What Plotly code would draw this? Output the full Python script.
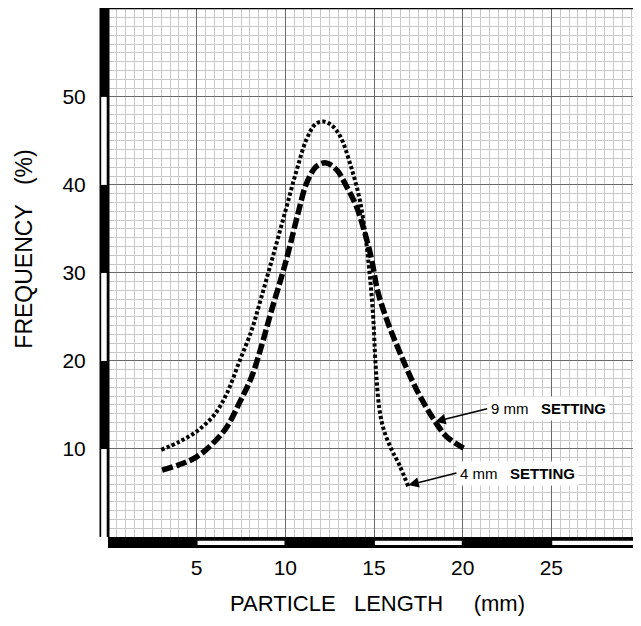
import plotly.graph_objects as go

# ---- data ----
x_4mm = [3.0, 4.0, 5.0, 6.0, 6.7, 7.4, 8.1, 8.6, 9.3, 10.0, 10.6, 11.2, 11.7, 12.15, 12.6,
         13.1, 13.7, 14.2, 14.5, 14.7, 14.85, 14.97, 15.05, 15.15, 15.3, 15.52, 15.95, 16.45, 16.94]
y_4mm = [9.9, 10.8, 12.0, 13.9, 16.3, 19.9, 23.5, 26.9, 31.9, 37.0, 41.4, 45.2, 46.9, 47.2, 46.8,
         45.5, 42.1, 38.3, 34.5, 31.0, 27.8, 24.5, 21.0, 17.8, 14.6, 12.4, 10.1, 8.1, 5.7]

x_9mm = [3.05, 4.0, 5.0, 5.9, 6.7, 7.4, 8.1, 8.7, 9.2, 9.85, 10.2, 10.72, 11.2, 11.75, 12.3,
         12.9, 13.46, 14.02, 14.49, 14.87, 15.2, 15.72, 16.47, 17.41, 18.45, 19.1, 20.05]
y_9mm = [7.6, 8.2, 9.1, 10.6, 12.5, 15.2, 18.2, 22.0, 25.6, 30.0, 32.6, 36.8, 40.2, 42.1, 42.5,
         41.7, 39.8, 37.5, 34.5, 31.5, 28.0, 24.7, 20.9, 16.7, 13.1, 11.4, 10.1]

x_ticks = [5, 10, 15, 20, 25]
y_ticks = [10, 20, 30, 40, 50]
x_max = 30
y_max = 60.1

label_9mm = "9 mm\u00a0\u00a0\u00a0<b>SETTING</b>"
label_4mm = "4 mm\u00a0\u00a0\u00a0<b>SETTING</b>"
x_title = "PARTICLE\u00a0\u00a0\u00a0LENGTH\u00a0\u00a0\u00a0\u00a0\u00a0(mm)"
y_title = "FREQUENCY\u00a0\u00a0\u00a0(%)"

FONT = "Liberation Sans, Arial, Helvetica, sans-serif"

fig = go.Figure()
fig.add_trace(go.Scatter(
    x=x_4mm, y=y_4mm, mode="lines", name="4 mm setting",
    line=dict(color="black", width=4, dash="3.3px,2.3px", shape="spline", smoothing=1.0),
    showlegend=False, hoverinfo="skip"))
fig.add_trace(go.Scatter(
    x=x_9mm, y=y_9mm, mode="lines", name="9 mm setting",
    line=dict(color="black", width=5.5, dash="11px,3.5px", shape="spline", smoothing=1.0),
    showlegend=False, hoverinfo="skip"))

shapes = []
# left thick axis bar
shapes.append(dict(type="rect", xref="paper", yref="paper", xsizemode="pixel", xanchor=0,
                   x0=-8.5, x1=1.5, y0=0, y1=1, fillcolor="black", line=dict(width=0), layer="above"))
# white strips in left bar: alternate intervals between ticks
y_edges = [0] + y_ticks
for i in range(0, len(y_edges) - 1, 2):
    shapes.append(dict(type="rect", xref="paper", yref="y", xsizemode="pixel", xanchor=0,
                       x0=-6.8, x1=-1.3, y0=y_edges[i], y1=y_edges[i + 1],
                       fillcolor="white", line=dict(width=0), layer="above"))
# bottom thick axis bar
shapes.append(dict(type="rect", xref="x", yref="paper", ysizemode="pixel", yanchor=0,
                   x0=0, x1=x_max, y0=0, y1=-11, fillcolor="black", line=dict(width=0), layer="above"))
x_edges = x_ticks + [x_max]
for i in range(0, len(x_edges) - 1, 2):
    shapes.append(dict(type="rect", xref="x", yref="paper", ysizemode="pixel", yanchor=0,
                       x0=x_edges[i] + 0.05, x1=x_edges[i + 1] - 0.05, y0=-3.7, y1=-8,
                       fillcolor="white", line=dict(width=0), layer="above"))
# top border
shapes.append(dict(type="line", xref="paper", yref="paper", x0=0, x1=1, y0=1, y1=1,
                   line=dict(color="black", width=2.5), layer="above"))

annotations = [
    dict(x=18.45, y=13.1, xref="x", yref="y", text=label_9mm, showarrow=True,
         ax=52, ay=-13, xanchor="left", yanchor="middle", bgcolor="white", borderpad=3,
         arrowhead=2, arrowsize=1.3, arrowwidth=1.6, arrowcolor="black", standoff=0,
         font=dict(family=FONT, size=15, color="black")),
    dict(x=16.94, y=5.9, xref="x", yref="y", text=label_4mm, showarrow=True,
         ax=48, ay=-12, xanchor="left", yanchor="middle", bgcolor="white", borderpad=3,
         arrowhead=2, arrowsize=1.3, arrowwidth=1.6, arrowcolor="black", standoff=0,
         font=dict(family=FONT, size=15, color="black")),
    dict(x=0.5075, y=-0.1248, xref="paper", yref="paper", text=x_title, showarrow=False,
         xanchor="center", yanchor="middle", font=dict(family=FONT, size=22, color="black")),
    dict(x=-0.158, y=0.545, xref="paper", yref="paper", text=y_title, showarrow=False,
         textangle=-90, xanchor="center", yanchor="middle",
         font=dict(family=FONT, size=23, color="black")),
]

# the page body adds an 8px offset, so the figure is made smaller than the window
fig.update_layout(
    width=633, height=618,
    margin=dict(l=100, r=1, t=0, b=89, pad=0),
    paper_bgcolor="white", plot_bgcolor="white",
    font=dict(family=FONT, color="black"),
    shapes=shapes, annotations=annotations,
)
fig.update_xaxes(
    range=[0, x_max], tickmode="array", tickvals=x_ticks, ticktext=[str(v) for v in x_ticks],
    ticks="outside", ticklen=12, tickcolor="rgba(0,0,0,0)",
    tickfont=dict(family=FONT, size=21, color="black"),
    showgrid=True, gridcolor="#6a6a6a", gridwidth=1.3, zeroline=False, showline=False,
    minor=dict(tickmode="linear", tick0=0, dtick=0.5, showgrid=True, gridcolor="#c8c8c8", gridwidth=1),
    fixedrange=True, automargin=False,
)
fig.update_yaxes(
    range=[0, y_max], tickmode="array", tickvals=y_ticks, ticktext=[str(v) for v in y_ticks],
    ticks="outside", ticklen=17, tickcolor="rgba(0,0,0,0)",
    tickfont=dict(family=FONT, size=21, color="black"),
    showgrid=True, gridcolor="#6a6a6a", gridwidth=1.3, zeroline=False, showline=False,
    minor=dict(tickmode="linear", tick0=0, dtick=1, showgrid=True, gridcolor="#c8c8c8", gridwidth=1),
    fixedrange=True, automargin=False,
)

fig.write_html("out.html")
